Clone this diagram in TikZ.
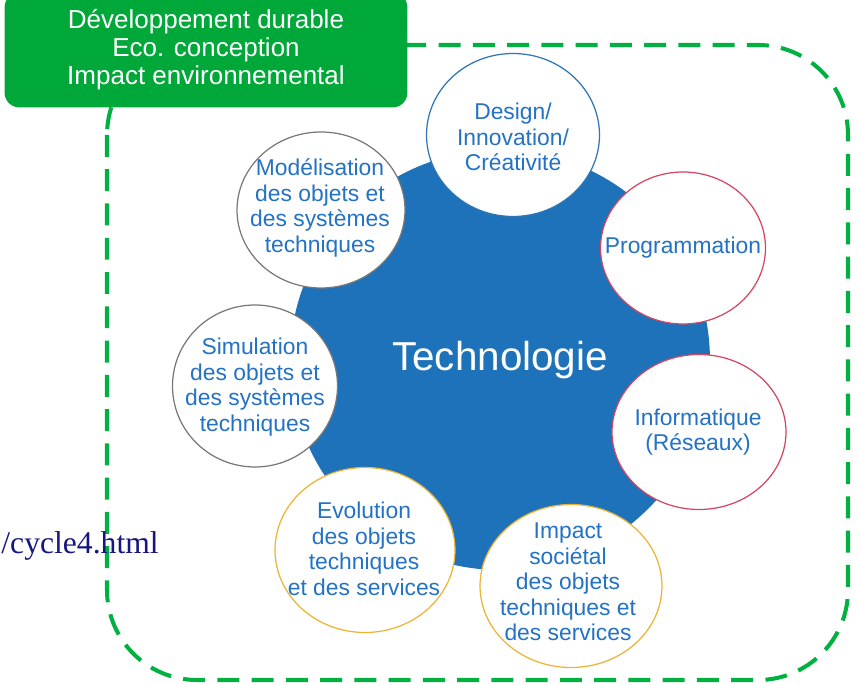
\documentclass[tikz,border=0pt]{standalone}
\usepackage{fontspec}
\setmainfont{Liberation Sans}
\newfontfamily\urlfont{Liberation Serif}
\usetikzlibrary{shapes.geometric}
\definecolor{techblue}{RGB}{30,114,186}
\definecolor{txtblue}{RGB}{35,114,196}
\definecolor{ecogreen}{RGB}{0,168,58}
\definecolor{dashgreen}{RGB}{0,176,64}
\definecolor{ringred}{RGB}{212,70,96}
\definecolor{ringorange}{RGB}{238,178,52}
\definecolor{ringgrey}{RGB}{120,120,120}
\definecolor{ringblue}{RGB}{46,117,182}
\definecolor{urlnavy}{RGB}{22,22,128}

\begin{document}
\begin{tikzpicture}[x=0.02cm, y=-0.02cm, every node/.style={align=center, inner sep=0pt, font=\fontsize{13}{14.5}\selectfont, text=txtblue}, bubble/.style={ellipse, draw, fill=white, line width=0.7pt}]
    \useasboundingbox (0,0) rectangle (858,685);

    \draw[dashgreen, line width=2.3pt, dash pattern=on 12.5pt off 7pt, rounded corners=1.8cm] (107,45) rectangle (848,680);

    \node[circle, fill=techblue, minimum size=8.4cm, text=white, font=\fontsize{23}{27}\selectfont] (1) at (500,360) {Technologie};

    \node[bubble, draw=ringblue, minimum width=3.46cm, minimum height=3.26cm] (2) at (513,135) {};
    \node (3) at (513,137) {Design/\\Innovation/\\Créativité};

    \node[bubble, draw=ringred, minimum width=3.3cm, minimum height=3.04cm] (4) at (683,248) {};
    \node (5) at (683,248) {Programmation};

    \node[bubble, draw=ringred, minimum width=3.48cm, minimum height=3.1cm] (6) at (699,432) {};
    \node (7) at (698,432) {Informatique\\(Réseaux)};

    \node[bubble, draw=ringorange, minimum width=3.64cm, minimum height=3.26cm] (8) at (571,586) {};
    \node (9) at (568,582) {Impact\\sociétal\\des objets\\techniques et\\des services};

    \node[bubble, draw=ringorange, minimum width=3.6cm, minimum height=3.3cm] (10) at (365,550) {};
    \node (11) at (364,549) {Evolution\\des objets\\techniques\\et des services};

    \node[bubble, draw=ringgrey, minimum width=3.3cm, minimum height=3.24cm] (12) at (255,386) {};
    \node (13) at (255,387) {Simulation\\des objets et\\des systèmes\\techniques};

    \node[bubble, draw=ringgrey, minimum width=3.36cm, minimum height=3.12cm] (14) at (321,210) {};
    \node (15) at (320,208) {Modélisation\\des objets et\\des systèmes\\techniques};

    \node[fill=ecogreen, rounded corners=0.3cm, minimum width=8.06cm, minimum height=2.3cm, text=white, font=\fontsize{14.8}{16}\selectfont] (16) at (206,50) {Développement durable\\Eco. conception\\Impact environnemental};

    \node[anchor=east, text=urlnavy, font=\urlfont\fontsize{18}{20}\selectfont] (17) at (159,546) {/cycle4.html};

\end{tikzpicture}
\end{document}
